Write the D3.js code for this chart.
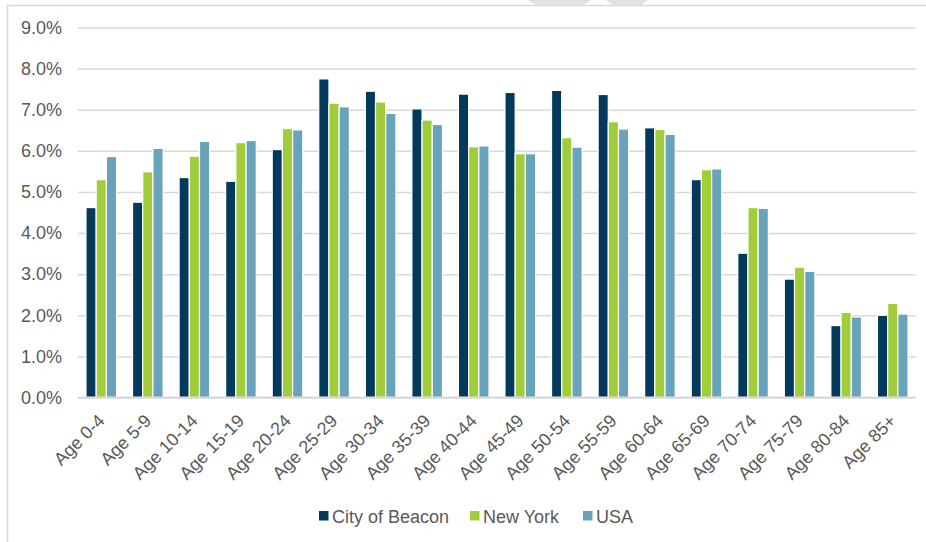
<!DOCTYPE html>
<meta charset="utf-8">
<head>
  <script src="https://d3js.org/d3.v7.min.js"></script>
  <style>
    body { margin: 0; background: #fff; font-family: "Liberation Sans", Arial, sans-serif; }
    .axis text { font-size: 18px; fill: #595959; }
    .grid line { stroke: #d9d9d9; stroke-width: 1.5px; }
    .grid path { stroke-width: 0; }
    .legend text { font-size: 18px; fill: #595959; }
  </style>
</head>
<body>
<script>

// age groups along the x axis
var ageGroups = ["Age 0-4", "Age 5-9", "Age 10-14", "Age 15-19", "Age 20-24", "Age 25-29",
  "Age 30-34", "Age 35-39", "Age 40-44", "Age 45-49", "Age 50-54", "Age 55-59",
  "Age 60-64", "Age 65-69", "Age 70-74", "Age 75-79", "Age 80-84", "Age 85+"];

var seriesNames = ["City of Beacon", "New York", "USA"];

// share of population, in percent
var beacon = [4.62, 4.75, 5.35, 5.26, 6.03, 7.75, 7.45, 7.02, 7.38, 7.42, 7.47, 7.37, 6.56, 5.30, 3.51, 2.88, 1.75, 2.00];
var newYork = [5.30, 5.49, 5.87, 6.20, 6.54, 7.16, 7.19, 6.75, 6.10, 5.93, 6.32, 6.71, 6.52, 5.54, 4.62, 3.17, 2.07, 2.29];
var usa = [5.86, 6.06, 6.23, 6.25, 6.51, 7.07, 6.91, 6.64, 6.12, 5.93, 6.09, 6.53, 6.40, 5.56, 4.60, 3.07, 1.96, 2.03];

var yTicks = [0, 1, 2, 3, 4, 5, 6, 7, 8, 9];
var colors = ["#033a5c", "#a1cd3a", "#68a2bb"];

var margin = {top: 27.5, right: 10, bottom: 144, left: 78},
    width = 916 - margin.left,
    height = 397.5 - margin.top;

var svg = d3.select("body").append("svg")
    .attr("width", 926)
    .attr("height", 542);

// chart frame and the cut off shape at the top
svg.append("path")
    .attr("d", "M7.5,545 L7.5,5.5 L930,5.5")
    .attr("fill", "none")
    .attr("stroke", "#d9d9d9")
    .attr("stroke-width", 1.5);

svg.append("polygon")
    .attr("points", "528,0 591,0 584,5 536,5")
    .attr("fill", "#e1e1e1");
svg.append("polygon")
    .attr("points", "606,0 648,0 641,5 613,5")
    .attr("fill", "#e1e1e1");

var g = svg.append("g")
    .attr("transform", "translate(" + margin.left + "," + margin.top + ")");

var x = d3.scaleBand().domain(ageGroups).range([0, width]).padding(0);
var y = d3.scaleLinear().domain([0, 9]).range([height, 0]);

// gridlines
g.append("g")
    .attr("class", "grid")
    .call(d3.axisLeft(y).tickValues(yTicks).tickSize(-width).tickFormat(""));

// y axis labels
var yAxis = g.append("g")
    .attr("class", "axis")
    .call(d3.axisLeft(y).tickValues(yTicks).tickSize(0).tickPadding(16)
      .tickFormat(function(d) { return d3.format(".1f")(d) + "%"; }));
yAxis.select(".domain").remove();

// bars
var data = ageGroups.map(function(a, i) {
  return {age: a, values: [beacon[i], newYork[i], usa[i]]};
});

var barW = 10.2;
var groups = g.selectAll(".group")
    .data(data)
  .enter().append("g")
    .attr("class", "group")
    .attr("transform", function(d) { return "translate(" + (x(d.age) + x.bandwidth() / 2) + ",0)"; });

groups.selectAll("rect")
    .data(function(d) { return d.values; })
  .enter().append("rect")
    .attr("x", function(d, i) { return (i - 1.5) * barW; })
    .attr("width", barW)
    .attr("y", function(d) { return y(d); })
    .attr("height", function(d) { return height - y(d); })
    .attr("fill", function(d, i) { return colors[i]; })
    .attr("stroke", "#fff")
    .attr("stroke-width", 1.2);

// baseline
g.append("line")
    .attr("x1", 0).attr("x2", width)
    .attr("y1", height).attr("y2", height)
    .attr("stroke", "#d9d9d9")
    .attr("stroke-width", 2);

// x axis labels, slanted
g.append("g")
    .attr("class", "axis")
  .selectAll("text")
    .data(ageGroups)
  .enter().append("text")
    .attr("transform", function(d) {
      return "translate(" + (x(d) + x.bandwidth() / 2) + "," + (height + 20) + ") rotate(-45)";
    })
    .attr("text-anchor", "end")
    .attr("dy", "0.35em")
    .text(function(d) { return d; });

// legend
var legendX = [319, 470, 583];
var legend = svg.append("g").attr("class", "legend");
seriesNames.forEach(function(name, i) {
  legend.append("rect")
    .attr("x", legendX[i]).attr("y", 511)
    .attr("width", 9.5).attr("height", 9.5)
    .attr("fill", colors[i]);
  legend.append("text")
    .attr("x", legendX[i] + 13).attr("y", 522.5)
    .text(name);
});

</script>
</body>
